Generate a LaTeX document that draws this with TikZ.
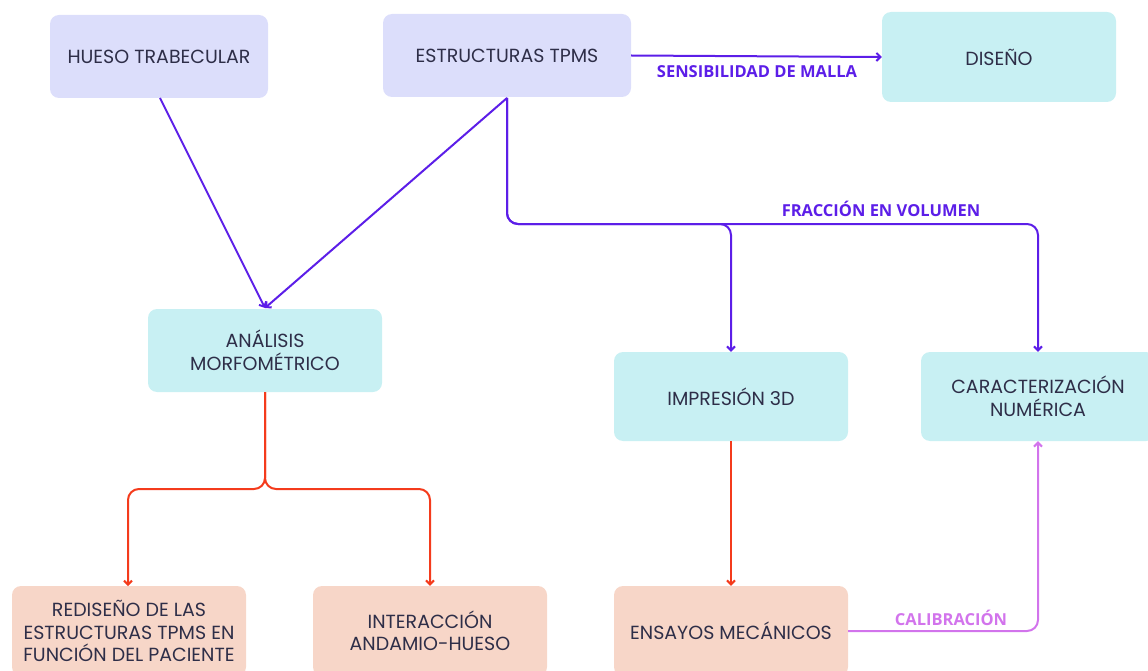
\documentclass[tikz,border=0pt]{standalone}
\usepackage{fontspec}
\setmainfont{Poppins}
\newfontfamily\lblfont{Open Sans}
\usetikzlibrary{arrows.meta}
\definecolor{lav}{HTML}{DCDEFB}
\definecolor{cyanbox}{HTML}{C8F0F3}
\definecolor{peach}{HTML}{F7D6C8}
\definecolor{boxtext}{HTML}{2E2E48}
\definecolor{purp}{HTML}{5C1EE8}
\definecolor{redl}{HTML}{F43B1C}
\definecolor{pinkl}{HTML}{D274EC}
\tikzset{
  box/.style={rounded corners=9pt, minimum width=234pt, minimum height=86pt, align=center, text=boxtext, font=\fontsize{19}{22.5}\selectfont, inner sep=0pt},
  lav/.style={box, fill=lav},
  cyb/.style={box, fill=cyanbox},
  pch/.style={box, fill=peach},
  conn/.style={line width=2pt, -{Straight Barb[length=4pt,width=8pt]}, rounded corners=11pt},
  lbl/.style={font=\lblfont\bfseries\fontsize{16.5}{18}\selectfont, inner sep=0pt}
}
\begin{document}
\begin{tikzpicture}[x=1pt,y=-1pt]
\useasboundingbox (0,0) rectangle (1148,671);
\clip (0,0) rectangle (1148,671);
\node[lav, minimum width=218pt, minimum height=83pt] (hueso) at (159,56.5) {HUESO TRABECULAR};
\node[lav, minimum width=248pt, minimum height=83pt] (tpms) at (507,55.5) {ESTRUCTURAS TPMS};
\node[cyb, minimum height=90pt] (diseno) at (999,57) {DISEÑO};
\node[cyb, minimum height=83pt] (analisis) at (265,350.5) {ANÁLISIS\\MORFOMÉTRICO};
\node[cyb, minimum height=89pt] (impresion) at (731,396.5) {IMPRESIÓN 3D};
\node[cyb, minimum height=89pt] (carac) at (1038,396.5) {CARACTERIZACIÓN\\NUMÉRICA};
\node[pch, minimum height=90pt] (rediseno) at (129,631) {REDISEÑO DE LAS\\ESTRUCTURAS TPMS EN\\FUNCIÓN DEL PACIENTE};
\node[pch, minimum height=90pt] (interac) at (430,631) {INTERACCIÓN\\ANDAMIO-HUESO};
\node[pch, minimum height=90pt] (ensayos) at (731,631) {ENSAYOS MECÁNICOS};

\coordinate (tip) at (265,308);
\draw[conn, purp] (160,98) -- (tip);
\draw[conn, purp] (507,98) -- (tip);
\draw[conn, purp] (tpms.east) -- (diseno.west);
\node[lbl, text=purp] (l1) at (757,72) {SENSIBILIDAD DE MALLA};
\draw[conn, purp] (507,98) -- (507,224) -- (731,224) -- (impresion.north);
\draw[conn, purp] (507,98) -- (507,224) -- (1038,224) -- (carac.north);
\node[lbl, text=purp] (l2) at (881,209) {FRACCIÓN EN VOLUMEN};

\draw[conn, redl] (analisis.south) -- (265,489) -- (128,489) -- (128,586);
\draw[conn, redl] (analisis.south) -- (265,489) -- (430,489) -- (interac.north);
\draw[conn, redl] (impresion.south) -- (ensayos.north);

\draw[conn, pinkl] (ensayos.east) -- (1038,631) -- (carac.south);
\node[lbl, text=pinkl] (l3) at (951,618) {CALIBRACIÓN};
\end{tikzpicture}
\end{document}
